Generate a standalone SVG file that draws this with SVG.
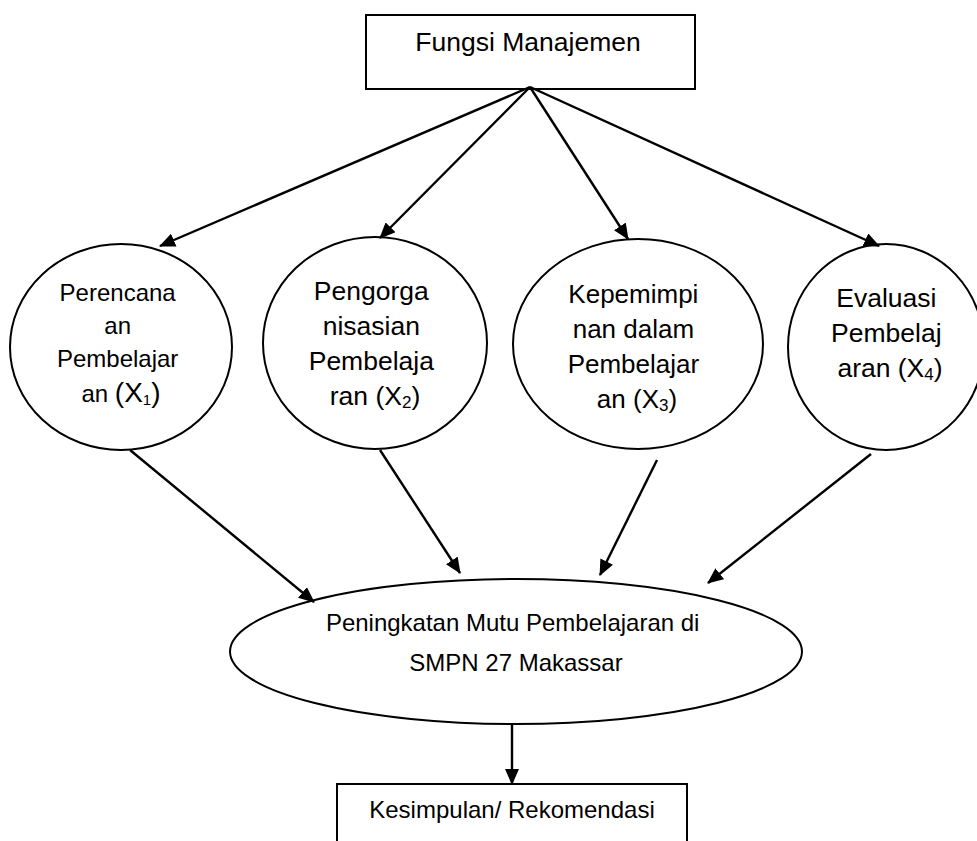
<svg xmlns="http://www.w3.org/2000/svg" width="977" height="841" viewBox="0 0 977 841">
<style>
  .shape { fill: #fff; stroke: #000; stroke-width: 2; }
  .lbl { font-family: "Liberation Sans", Arial, sans-serif; fill: #000; text-anchor: middle; }
  .conn line { stroke: #000; stroke-width: 2.4; marker-end: url(#arr); }
</style>
<defs>
  <marker id="arr" markerUnits="userSpaceOnUse" viewBox="0 0 16 14" refX="15" refY="7" markerWidth="16" markerHeight="14" orient="auto">
    <path d="M0,0 L16,7 L0,14 z" fill="#000"/>
  </marker>
</defs>
<rect width="977" height="841" fill="#fff"/>

<g id="fungsi">
  <rect class="shape" x="366" y="15" width="329" height="74"/>
  <text class="lbl" x="528" y="51" font-size="26.5">Fungsi Manajemen</text>
</g>

<g id="x1">
  <ellipse class="shape" cx="121" cy="347" rx="111" ry="103"/>
  <text class="lbl" font-size="24">
    <tspan x="121" y="301">Perencana</tspan>
    <tspan x="121" y="334">an</tspan>
    <tspan x="121" y="367">Pembelajar</tspan>
    <tspan x="121" y="402">an <tspan font-size="28">(X</tspan><tspan font-size="15" dy="3">1</tspan><tspan font-size="28" dy="-3">)</tspan></tspan>
  </text>
</g>

<g id="x2">
  <ellipse class="shape" cx="375" cy="343" rx="112" ry="106"/>
  <text class="lbl" font-size="26.5">
    <tspan x="375" y="300">Pengorga</tspan>
    <tspan x="375" y="335">nisasian</tspan>
    <tspan x="375" y="370">Pembelaja</tspan>
    <tspan x="375" y="405">ran (X<tspan font-size="17" dy="3">2</tspan><tspan dy="-3">)</tspan></tspan>
  </text>
</g>

<g id="x3">
  <ellipse class="shape" cx="638" cy="344" rx="125" ry="105"/>
  <text class="lbl" font-size="26">
    <tspan x="637" y="303">Kepemimpi</tspan>
    <tspan x="637" y="338">nan dalam</tspan>
    <tspan x="637" y="373">Pembelajar</tspan>
    <tspan x="637" y="408">an (X<tspan font-size="17" dy="3">3</tspan><tspan dy="-3">)</tspan></tspan>
  </text>
</g>

<g id="x4">
  <ellipse class="shape" cx="886" cy="347" rx="98" ry="103"/>
  <text class="lbl" font-size="26.5">
    <tspan x="890" y="307">Evaluasi</tspan>
    <tspan x="890" y="342">Pembelaj</tspan>
    <tspan x="890" y="377">aran (X<tspan font-size="17" dy="3">4</tspan><tspan dy="-3">)</tspan></tspan>
  </text>
</g>

<g id="mutu">
  <ellipse class="shape" cx="516" cy="651.5" rx="286" ry="72.5"/>
  <text class="lbl" font-size="24">
    <tspan x="516" y="631">Peningkatan Mutu Pembelajaran di</tspan>
    <tspan x="516" y="671">SMPN 27 Makassar</tspan>
  </text>
</g>

<g id="kesimpulan">
  <rect class="shape" x="337" y="784" width="350" height="70"/>
  <text class="lbl" x="512" y="818" font-size="24">Kesimpulan/ Rekomendasi</text>
</g>

<g class="conn" id="connectors">
  <line x1="530" y1="87" x2="160" y2="246"/>
  <line x1="530" y1="87" x2="380" y2="238"/>
  <line x1="530" y1="87" x2="628" y2="239"/>
  <line x1="530" y1="87" x2="879" y2="246"/>
  <line x1="130" y1="450" x2="314" y2="602"/>
  <line x1="380" y1="450" x2="460" y2="573"/>
  <line x1="657" y1="460" x2="600" y2="575"/>
  <line x1="871" y1="454" x2="708" y2="583"/>
  <line x1="512" y1="724" x2="512" y2="784"/>
</g>
</svg>
